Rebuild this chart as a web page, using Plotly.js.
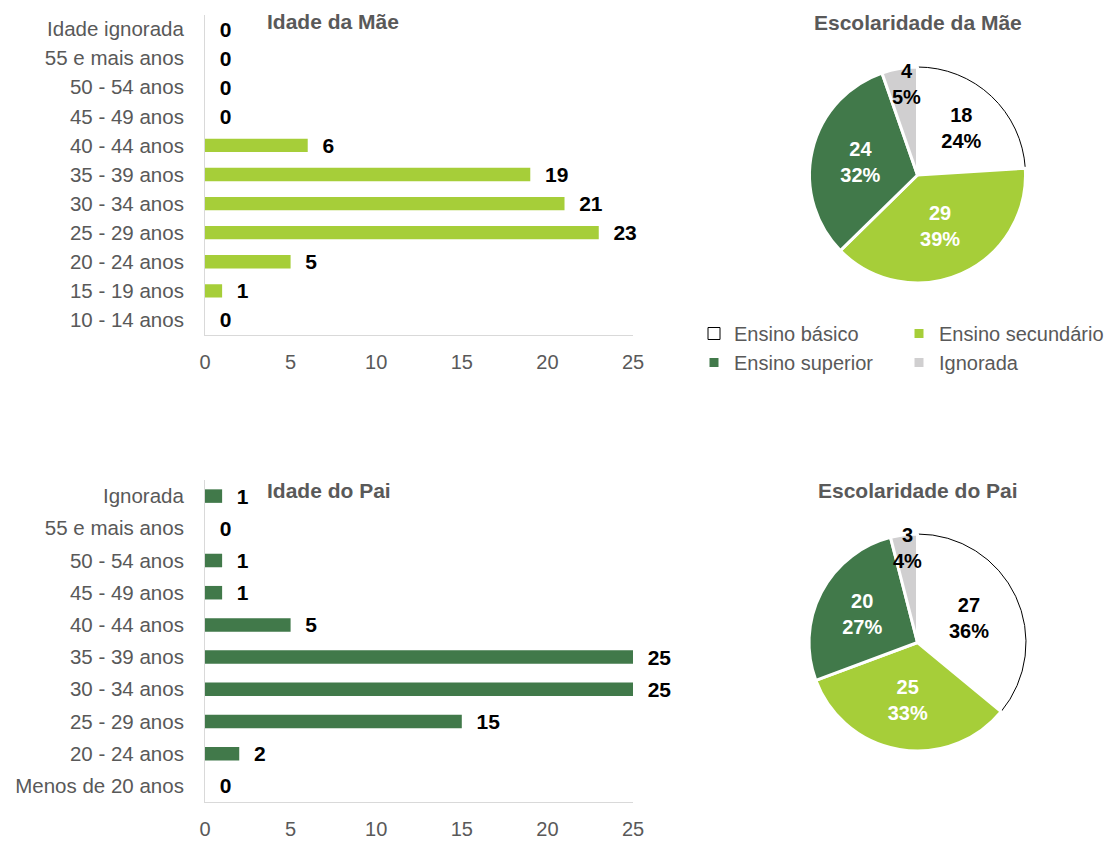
<!DOCTYPE html>
<html><head><meta charset="utf-8">
<script src="https://cdn.plot.ly/plotly-3.0.1.min.js"></script>
<style>body{margin:0;background:#fff}#chart{width:1118px;height:849px}</style>
</head><body><div id="chart"></div>
<script>
const maeAgeCats = ['Idade ignorada','55 e mais anos','50 - 54 anos','45 - 49 anos','40 - 44 anos','35 - 39 anos','30 - 34 anos','25 - 29 anos','20 - 24 anos','15 - 19 anos','10 - 14 anos'];
const maeAgeVals = [0,0,0,0,6,19,21,23,5,1,0];
const paiAgeCats = ['Ignorada','55 e mais anos','50 - 54 anos','45 - 49 anos','40 - 44 anos','35 - 39 anos','30 - 34 anos','25 - 29 anos','20 - 24 anos','Menos de 20 anos'];
const paiAgeVals = [1,0,1,1,5,25,25,15,2,0];
const eduLabels = ['Ensino básico','Ensino secundário','Ensino superior','Ignorada'];
const maeEduVals = [18,29,24,4];
const paiEduVals = [27,25,20,3];
const xTickVals = [0,5,10,15,20,25];
const titles = ['Idade da Mãe','Escolaridade da Mãe','Idade do Pai','Escolaridade do Pai'];

const W = 1118, H = 849, MR = 50, PW = W - MR;
const fx = p => p / PW;
const fy = p => 1 - p / H;

const SANS = 'Liberation Sans, Arial, sans-serif';
const GREY = '#595959';
const LIGHT = '#a6ce39', DARK = '#41794a', IGN = '#d0cfd0';
const PIE_COLORS = ['#ffffff', LIGHT, DARK, IGN];

function barTrace(cats, vals, color, xa, ya, w) {
  return {
    type: 'bar', orientation: 'h', x: vals, y: cats, xaxis: xa, yaxis: ya,
    width: w, marker: {color: color},
    texttemplate: '\u00a0\u00a0%{x}', textposition: 'outside',
    cliponaxis: false, constraintext: 'none',
    textfont: {family: SANS, size: 21, color: '#000', weight: 'bold'},
    showlegend: false, hoverinfo: 'x+y'
  };
}
function pieTrace(vals, dom, legend) {
  return {
    type: 'pie', labels: eduLabels, values: vals, sort: false, direction: 'clockwise', rotation: 0,
    domain: dom, legend: legend,
    marker: {colors: PIE_COLORS, line: {color: ['#000000','#ffffff','#ffffff','#ffffff'], width: [1,3,3,3]}},
    texttemplate: '%{value}<br>%{percent:.0%}',
    textposition: ['inside','inside','inside','none'],
    insidetextorientation: 'horizontal',
    textfont: {family: SANS, size: 20, weight: 'bold', color: ['#000','#fff','#fff','#000']},
    automargin: false
  };
}
// label of the small "Ignorada" slice, written from the data
function smallSliceLabel(vals) {
  const total = vals.reduce((a, b) => a + b, 0);
  const v = vals[3];
  return v + '<br>' + Math.round(v / total * 100) + '%';
}

const data = [
  barTrace(maeAgeCats, maeAgeVals, LIGHT, 'x', 'y', 0.46),
  barTrace(paiAgeCats, paiAgeVals, DARK, 'x2', 'y2', 0.42),
  pieTrace(maeEduVals, {x: [fx(809), fx(1026)], y: [fy(283), fy(67)]}, 'legend'),
  pieTrace(paiEduVals, {x: [fx(809), fx(1026)], y: [fy(751), fy(534)]}, 'legend2')
];

const xaxisBase = {
  range: [0, 25], tickvals: xTickVals, showgrid: false, zeroline: false,
  showline: true, linecolor: '#d9d9d9', linewidth: 1, ticks: '',
  tickfont: {family: SANS, size: 20, color: GREY}, ticklabelstandoff: 9, fixedrange: true
};
const yaxisBase = {
  type: 'category', autorange: 'reversed', showgrid: false, zeroline: false,
  showline: true, linecolor: '#d9d9d9', linewidth: 1, ticks: '',
  tickfont: {family: SANS, size: 20.5, color: GREY}, ticklabelstandoff: 16, fixedrange: true
};
const legendBase = {
  orientation: 'h', xref: 'paper', xanchor: 'right', x: 1104 / PW, yanchor: 'top',
  entrywidth: 160, font: {family: SANS, size: 20, color: GREY}, bgcolor: 'rgba(0,0,0,0)'
};
const annBase = {xref: 'paper', yref: 'paper', showarrow: false, yanchor: 'middle'};

const layout = {
  width: W, height: H, paper_bgcolor: '#fff', plot_bgcolor: '#fff',
  margin: {l: 0, r: MR, t: 0, b: 0, autoexpand: false},
  xaxis: Object.assign({}, xaxisBase, {domain: [fx(205), fx(633)], anchor: 'y'}),
  yaxis: Object.assign({}, yaxisBase, {domain: [fy(334.5), fy(14.5)], anchor: 'x'}),
  xaxis2: Object.assign({}, xaxisBase, {domain: [fx(205), fx(633)], anchor: 'y2'}),
  yaxis2: Object.assign({}, yaxisBase, {domain: [fy(802), fy(480)], anchor: 'x2'}),
  legend: Object.assign({}, legendBase, {y: fy(314)}),
  legend2: Object.assign({}, legendBase, {y: fy(780)}),
  annotations: [
    Object.assign({}, annBase, {text: titles[0], x: fx(265), y: fy(22), xanchor: 'left', font: {family: SANS, size: 21, color: GREY, weight: 'bold'}}),
    Object.assign({}, annBase, {text: titles[1], x: fx(918), y: fy(23), xanchor: 'center', font: {family: SANS, size: 21, color: GREY, weight: 'bold'}}),
    Object.assign({}, annBase, {text: titles[2], x: fx(265), y: fy(490), xanchor: 'left', font: {family: SANS, size: 21, color: GREY, weight: 'bold'}}),
    Object.assign({}, annBase, {text: titles[3], x: fx(918), y: fy(490), xanchor: 'center', font: {family: SANS, size: 21, color: GREY, weight: 'bold'}}),
    Object.assign({}, annBase, {text: smallSliceLabel(maeEduVals), x: fx(906), y: fy(84), xanchor: 'center', font: {family: SANS, size: 20, color: '#000', weight: 'bold'}}),
    Object.assign({}, annBase, {text: smallSliceLabel(paiEduVals), x: fx(907), y: fy(548), xanchor: 'center', font: {family: SANS, size: 20, color: '#000', weight: 'bold'}})
  ]
};

Plotly.newPlot('chart', data, layout, {displayModeBar: false, staticPlot: true});
</script>
</body></html>
